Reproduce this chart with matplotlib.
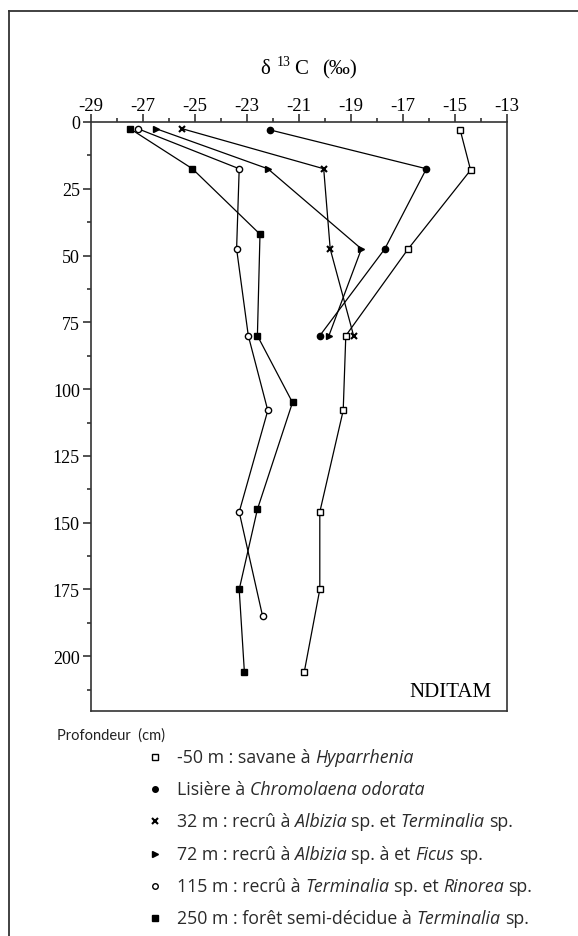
import matplotlib
matplotlib.use('Agg')
import matplotlib.pyplot as plt
from matplotlib.ticker import MultipleLocator

# depth (cm) and delta 13C (per mil)
savane_depth = [3, 18, 47.5, 80, 108, 146, 175, 206]
savane_d13c = [-14.8, -14.4, -16.8, -19.2, -19.3, -20.2, -20.2, -20.8]

lisiere_depth = [3, 17.5, 47.5, 80]
lisiere_d13c = [-22.1, -16.1, -17.7, -20.2]

m32_depth = [2.5, 17.5, 47.5, 80]
m32_d13c = [-25.5, -20.05, -19.8, -18.9]

m72_depth = [2.5, 17.5, 47.5, 80]
m72_d13c = [-26.5, -22.2, -18.6, -19.85]

m115_depth = [2.5, 17.5, 47.5, 80, 108, 146, 185]
m115_d13c = [-27.2, -23.3, -23.4, -22.95, -22.2, -23.3, -22.4]

m250_depth = [2.5, 17.5, 42, 80, 105, 145, 175, 206]
m250_d13c = [-27.5, -25.1, -22.5, -22.6, -21.25, -22.6, -23.3, -23.1]

xtick_values = [-29, -27, -25, -23, -21, -19, -17, -15, -13]
xtick_labels = ['-29', '-27', '-25', '-23', '-21', '-19', '-17', '-15', '-13']
ytick_values = [0, 25, 50, 75, 100, 125, 150, 175, 200]
ytick_labels = ['0', '25', '50', '75', '100', '125', '150', '175', '200']

legend_pieces = [
    [('-50 m : savane à', False), ('Hyparrhenia', True)],
    [('Lisière à', False), ('Chromolaena odorata', True)],
    [('32 m : recrû à', False), ('Albizia', True), ('sp. et', False),
     ('Terminalia', True), ('sp.', False)],
    [('72 m : recrû à', False), ('Albizia', True), ('sp. à et', False),
     ('Ficus', True), ('sp.', False)],
    [('115 m : recrû à', False), ('Terminalia', True), ('sp. et', False),
     ('Rinorea', True), ('sp.', False)],
    [('250 m : forêt semi-décidue à', False), ('Terminalia', True), ('sp.', False)],
]

SERIF = 'Liberation Serif'
SANS = 'Open Sans'

W, H = 578, 937
fig = plt.figure(figsize=(W / 100, H / 100), dpi=100)

# overlay in pixel units for frame, title and legend
ov = fig.add_axes([0, 0, 1, 1])
ov.set_xlim(0, W)
ov.set_ylim(H, 0)
ov.axis('off')

ax = fig.add_axes([91 / W, 1 - 712 / H, (507 - 91) / W, (712 - 123) / H])

series = [
    (savane_depth, savane_d13c, dict(marker='s', mfc='white', ms=5)),
    (lisiere_depth, lisiere_d13c, dict(marker='o', mfc='black', ms=4.5)),
    (m32_depth, m32_d13c, dict(marker='x', ms=5, mew=1.5)),
    (m72_depth, m72_d13c, dict(marker='>', mfc='black', ms=5)),
    (m115_depth, m115_d13c, dict(marker='o', mfc='white', ms=4.5)),
    (m250_depth, m250_d13c, dict(marker='s', mfc='black', ms=5)),
]
for depth, vals, style in series:
    ax.plot(vals, depth, color='black', lw=0.9, mec='black', mew=style.pop('mew', 1.0),
            **style, zorder=3)

ax.set_xlim(-29, -13)
ax.set_ylim(220.5, 0)
ax.xaxis.tick_top()
ax.set_xticks(xtick_values)
ax.set_xticklabels(xtick_labels, fontfamily=SERIF, fontsize=13.5)
ax.xaxis.set_minor_locator(MultipleLocator(1))
ax.set_yticks(ytick_values)
ax.set_yticklabels(ytick_labels, fontfamily=SERIF, fontsize=13)
ax.yaxis.set_minor_locator(MultipleLocator(12.5))
ax.tick_params(which='major', direction='out', length=6, width=1.1, color='#222')
ax.tick_params(axis='x', which='major', pad=0)
ax.tick_params(axis='y', which='major', pad=2)
ax.tick_params(which='minor', direction='out', length=3, width=1.1, color='#222')
for sp in ax.spines.values():
    sp.set_linewidth(1.2)
    sp.set_color('#333')

ax.text(0.963, 0.025, 'NDITAM', transform=ax.transAxes, ha='right', va='baseline',
        fontfamily=SERIF, fontsize=15)

# outer frame (left and top edges only, the rest is cropped)
ov.plot([9, 9], [937, 12], color='#333', lw=1.3)
ov.plot([9, 578], [12, 12], color='#333', lw=1.3)

renderer = fig.canvas.get_renderer()


def draw_runs(x, y, runs):
    for text, kw, gap in runs:
        x += gap
        t = ov.text(x, y, text, ha='left', va='baseline', **kw)
        x += t.get_window_extent(renderer).width
    return x


def text_width(s, **kw):
    t = ov.text(0, 0, s, **kw)
    w = t.get_window_extent(renderer).width
    t.remove()
    return w


# title
big = dict(fontfamily=SERIF, fontsize=15)
draw_runs(260, 74, [('δ', big, 0)])
draw_runs(277, 66, [('13', dict(fontfamily=SERIF, fontsize=10), 0)])
draw_runs(294, 74, [('C', big, 0), ('(‰)', big, 14)])

# legend
ov.text(57, 740, 'Profondeur  (cm)', ha='left', va='baseline',
        fontfamily='Lato', fontsize=10.5, color='#222')

LEG_SIZE = 12.8
space = (text_width('a a', fontfamily=SANS, fontsize=LEG_SIZE)
         - text_width('aa', fontfamily=SANS, fontsize=LEG_SIZE))

legend_markers = [
    dict(marker='s', mfc='white', ms=4.5),
    dict(marker='o', mfc='black', ms=4),
    dict(marker='x', ms=4.5, mew=1.5),
    dict(marker='>', mfc='black', ms=4.5),
    dict(marker='o', mfc='white', ms=4),
    dict(marker='s', mfc='black', ms=4.5),
]
for i, (pieces, mk) in enumerate(zip(legend_pieces, legend_markers)):
    yb = 763 + i * 32.2
    ov.plot([155], [yb - 5], ls='none', color='black', mec='black',
            mew=mk.pop('mew', 1.0), **mk)
    runs = []
    for j, (text, italic) in enumerate(pieces):
        kw = dict(fontfamily=SANS, fontsize=LEG_SIZE, color='#2a2a2a',
                  fontstyle='italic' if italic else 'normal')
        runs.append((text, kw, 0 if j == 0 else space))
    draw_runs(177, yb, runs)

fig.savefig('out.png', dpi=100)
